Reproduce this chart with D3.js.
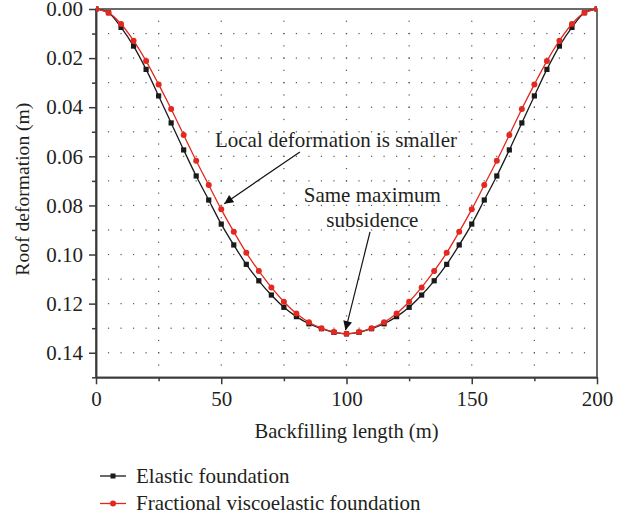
<!DOCTYPE html>
<html><head><meta charset="utf-8">
<script src="https://cdn.jsdelivr.net/npm/d3@7/dist/d3.min.js"></script>
<style>body{margin:0;background:#fff}svg{display:block}text{font-family:"Liberation Serif","DejaVu Serif",serif;fill:#231f20}</style>
</head><body><svg id="c" width="632" height="517"></svg>
<script>
const xs = [0,5,10,15,20,25,30,35,40,45,50,55,60,65,70,75,80,85,90,95,100,105,110,115,120,125,130,135,140,145,150,155,160,165,170,175,180,185,190,195,200];
const elastic = [0,0.0015,0.0075,0.0151,0.0246,0.0354,0.0464,0.0574,0.068,0.0778,0.0876,0.0961,0.104,0.1107,0.1165,0.1215,0.1253,0.1282,0.1302,0.1317,0.1323,0.1317,0.1302,0.1282,0.1253,0.1215,0.1165,0.1107,0.104,0.0961,0.0876,0.0778,0.068,0.0574,0.0464,0.0354,0.0246,0.0151,0.0075,0.0015,0];
const fractional = [0,0.0015,0.0061,0.0129,0.0212,0.0307,0.0407,0.0513,0.0618,0.0717,0.0816,0.0907,0.0993,0.1067,0.1134,0.1192,0.124,0.1276,0.13,0.1316,0.1323,0.1316,0.13,0.1276,0.124,0.1192,0.1134,0.1067,0.0993,0.0907,0.0816,0.0717,0.0618,0.0513,0.0407,0.0307,0.0212,0.0129,0.0061,0.0015,0];
const xTicks = [0,50,100,150,200];
const yTicks = [0,0.02,0.04,0.06,0.08,0.10,0.12,0.14];
const seriesNames = ["Elastic foundation","Fractional viscoelastic foundation"];
const xLabel = "Backfilling length (m)", yLabel = "Roof deformation (m)";
const notes = [
  {lines:["Local deformation is smaller"], x:95.8, y:0.0562, from:[81.4,0.0582], to:[51.2,0.0793]},
  {lines:["Same maximum","subsidence"], x:110.3, y:0.0786, from:[109.4,0.0908], to:[99.6,0.1308]}
];

const svg = d3.select("#c");
const x = d3.scaleLinear().domain([0,200]).range([96,597]);
const y = d3.scaleLinear().domain([0,0.15]).range([9,377.3]);
const axisCol = "#3a3a3a";
const FS = 21;

// grid dots
const g = svg.append("g");
const hRows = d3.range(1,15).map(i=>i*0.01);
const hCols = d3.range(1,40).map(i=>i*5);
hRows.forEach(r=>hCols.forEach(c=>{
  g.append("rect").attr("x",x(c)-0.6).attr("y",y(r)-0.6).attr("width",1.2).attr("height",1.2).attr("fill","#555");
}));
const vCols = d3.range(1,8).map(i=>i*25);
const vRows = d3.range(1,30).map(i=>i*0.005);
vCols.forEach(c=>vRows.forEach(r=>{
  g.append("rect").attr("x",x(c)-0.6).attr("y",y(r)-0.6).attr("width",1.2).attr("height",1.2).attr("fill","#555");
}));

// frame
svg.append("rect").attr("x",x(0)).attr("y",y(0)).attr("width",x(200)-x(0)).attr("height",y(0.15)-y(0))
  .attr("fill","none").attr("stroke",axisCol).attr("stroke-width",1.5);

// axes
const xa = svg.append("g").attr("transform",`translate(0,${y(0.15)})`)
  .call(d3.axisBottom(x).tickValues(xTicks).tickSize(7).tickSizeOuter(0).tickPadding(4).tickFormat(d3.format("d")));
const xm = svg.append("g").attr("transform",`translate(0,${y(0.15)})`)
  .call(d3.axisBottom(x).tickValues(d3.range(25,200,50)).tickSize(4).tickSizeOuter(0).tickFormat(""));
const ya = svg.append("g").attr("transform",`translate(${x(0)},0)`)
  .call(d3.axisLeft(y).tickValues(yTicks).tickSize(7).tickSizeOuter(0).tickPadding(6).tickFormat(d3.format(".2f")));
const ym = svg.append("g").attr("transform",`translate(${x(0)},0)`)
  .call(d3.axisLeft(y).tickValues(d3.range(0.01,0.16,0.02)).tickSize(4).tickSizeOuter(0).tickFormat(""));
[xa,xm,ya,ym].forEach(a=>{
  a.select(".domain").attr("stroke",axisCol).attr("stroke-width",1.5);
  a.selectAll(".tick line").attr("stroke",axisCol).attr("stroke-width",1.5);
  a.selectAll("text").attr("font-size",FS).attr("font-family","Liberation Serif").attr("fill","#231f20");
});
xa.selectAll("text").attr("dy","0.85em");

svg.append("text").attr("x",(x(0)+x(200))/2).attr("y",438).attr("text-anchor","middle").attr("font-size",20.6).text(xLabel);
svg.append("text").attr("transform",`translate(29,${(y(0)+y(0.15))/2-4}) rotate(-90)`).attr("text-anchor","middle").attr("font-size",19.6).text(yLabel);

// clip
svg.append("clipPath").attr("id","pc").append("rect").attr("x",x(0)).attr("y",y(0)-4).attr("width",x(200)-x(0)).attr("height",y(0.15)-y(0)+4);

const line = d3.line().x((d,i)=>x(xs[i])).y(d=>y(d)).curve(d3.curveCatmullRom);
const black = "#1a1a1a", red = "#e3281f";
const pg = svg.append("g").attr("clip-path","url(#pc)");
pg.append("path").attr("d",line(elastic)).attr("fill","none").attr("stroke",black).attr("stroke-width",1.3);
pg.selectAll(".sq").data(elastic).enter().append("rect").attr("x",(d,i)=>x(xs[i])-2.6).attr("y",d=>y(d)-2.6)
  .attr("width",5.2).attr("height",5.2).attr("fill",black);
pg.append("path").attr("d",line(fractional)).attr("fill","none").attr("stroke",red).attr("stroke-width",1.3);
pg.selectAll(".ci").data(fractional).enter().append("circle").attr("cx",(d,i)=>x(xs[i])).attr("cy",d=>y(d))
  .attr("r",3).attr("fill",red);

// annotations
const defs = svg.append("defs");
defs.append("marker").attr("id","ah").attr("viewBox","0 0 10 10").attr("refX",10).attr("refY",5)
  .attr("markerWidth",13).attr("markerHeight",9).attr("markerUnits","userSpaceOnUse").attr("orient","auto")
  .append("path").attr("d","M0,0 L10,5 L0,10 Z").attr("fill","#111");
notes.forEach(n=>{
  n.lines.forEach((t,i)=>svg.append("text").attr("x",x(n.x)).attr("y",y(n.y)+i*25).attr("text-anchor","middle").attr("font-size",FS).text(t));
  svg.append("line").attr("x1",x(n.from[0])).attr("y1",y(n.from[1])).attr("x2",x(n.to[0])).attr("y2",y(n.to[1]))
    .attr("stroke","#111").attr("stroke-width",1.2).attr("marker-end","url(#ah)");
});

// legend
const lg = svg.append("g");
[[black,"sq"],[red,"ci"]].forEach((s,i)=>{
  const ly = 476 + i*27.5;
  lg.append("line").attr("x1",100).attr("x2",126).attr("y1",ly).attr("y2",ly).attr("stroke",s[0]).attr("stroke-width",1.3);
  if(s[1]==="sq") lg.append("rect").attr("x",110.5).attr("y",ly-2.5).attr("width",5).attr("height",5).attr("fill",s[0]);
  else lg.append("circle").attr("cx",113).attr("cy",ly).attr("r",3).attr("fill",s[0]);
  lg.append("text").attr("x",136).attr("y",ly).attr("dy","0.33em").attr("font-size",FS).text(seriesNames[i]);
});
</script></body></html>
